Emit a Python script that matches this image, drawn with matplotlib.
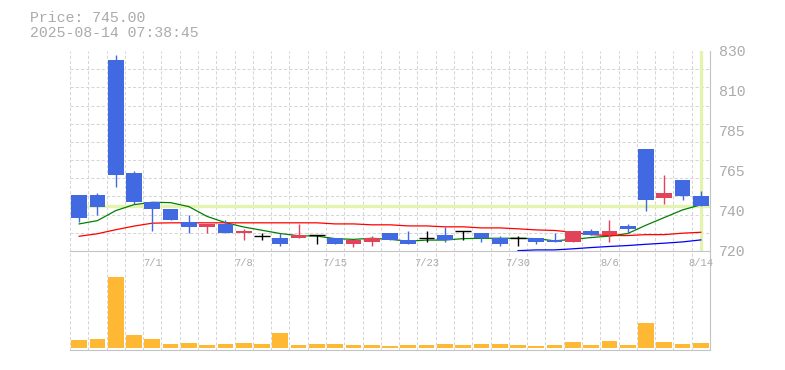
import numpy as np
import matplotlib
matplotlib.use('Agg')
import matplotlib.pyplot as plt


# daily bars, 6/25 - 8/14
dates = ['6/25', '6/26', '6/27', '6/30', '7/1', '7/2', '7/3', '7/4', '7/7', '7/8',
         '7/9', '7/10', '7/11', '7/14', '7/15', '7/16', '7/17', '7/18', '7/22', '7/23',
         '7/24', '7/25', '7/28', '7/29', '7/30', '7/31', '8/1', '8/4', '8/5', '8/6',
         '8/7', '8/8', '8/12', '8/13', '8/14']

opens = [751, 751, 825, 763, 747, 743, 736, 733, 735, 730,
         728, 727, 727, 729, 727, 724, 725, 730, 726, 727,
         729, 731, 730, 727, 727, 727, 726, 725, 731, 729,
         734, 776, 749, 759, 750]
highs = [751, 752, 828, 764, 747, 743, 740, 735, 737, 732,
         730, 730, 735, 729, 727, 726, 728, 730, 731, 731,
         733, 731, 730, 728, 728, 727, 730, 731, 732, 737,
         735, 776, 762, 759, 753]
lows = [736, 740, 755, 746, 731, 737, 730, 730, 730, 726,
        726, 723, 727, 724, 724, 722, 723, 726, 724, 725,
        725, 726, 725, 723, 723, 724, 725, 725, 729, 725,
        730, 742, 746, 748, 745]
closes = [738, 744, 762, 747, 743, 737, 733, 735, 730, 731,
          728, 724, 729, 729, 724, 726, 727, 726, 724, 727,
          726, 731, 727, 724, 727, 725, 725, 731, 729, 731,
          732, 748, 752, 750, 745]

# volume, thousand shares
volume = [8, 9, 71, 13, 9, 4, 5, 3, 4, 5,
          4, 15, 3, 4, 4, 3, 3, 2, 3, 3,
          4, 3, 4, 4, 3, 2, 3, 6, 3, 7,
          3, 25, 6, 4, 5]

# moving averages (short / mid / long)
ma_short = [734.9, 736.7, 742.2, 745.5, 746.8, 746.6, 744.4, 739.0, 735.6, 733.2,
            731.4, 729.6, 728.4, 728.2, 726.8, 726.4, 727.0, 726.4, 725.4, 726.0,
            726.0, 726.8, 727.0, 727.0, 727.0, 726.8, 725.6, 726.4, 727.4, 728.2,
            729.6, 734.2, 738.4, 742.6, 745.4]
ma_mid = [728.1, 729.5, 731.7, 733.7, 735.3, 735.5, 735.5, 735.5, 735.5, 735.5,
          735.5, 735.5, 735.5, 735.5, 734.9, 734.9, 734.4, 734.4, 733.8, 733.8,
          733.3, 733.3, 732.7, 732.7, 732.2, 731.6, 731.3, 730.3, 729.0, 728.5,
          728.5, 729.0, 729.0, 729.8, 730.3]
ma_long = [np.nan] * 24 + [720.2, 720.6, 720.6, 721.2, 721.9, 722.5,
                           723.0, 723.7, 724.3, 725.0, 726.1]

stamp = '2025-08-14 07:38:45'

y_ticks = [720, 742, 764, 786, 808, 830]
y_tick_labels = ['720', '740', '765', '785', '810', '830']

UP = '#e0435a'
DOWN = '#4169e1'
VOL = '#ffb833'
CROSS = '#e4f4b0'
GRID = '#d6d6d6'
AXIS = '#c4c4c4'
TEXT = '#ababab'
FONT = 'Liberation Mono'

x = np.arange(1, len(dates) + 1)
o = np.array(opens, dtype=float)
h = np.array(highs, dtype=float)
l = np.array(lows, dtype=float)
c = np.array(closes, dtype=float)

fig = plt.figure(figsize=(7.85, 3.7), dpi=100)
ax = fig.add_axes([70 / 785, 119 / 370, 640 / 785, 200 / 370])
axv = fig.add_axes([70 / 785, 20 / 370, 640 / 785, 99 / 370])
ax.set_zorder(2)
axv.set_zorder(1)

for a in (ax, axv):
    a.set_xlim(0.5, len(x) + 0.5)
    a.set_xticks(np.arange(0.5, len(x) + 1), minor=True)
    a.grid(True, which='minor', axis='x', color=GRID, ls=(0, (3, 2)), lw=0.75)
    a.tick_params(which='both', length=0)
    a.spines['top'].set_visible(False)
    a.spines['left'].set_visible(False)
    a.spines['right'].set_color(AXIS)
    a.spines['bottom'].set_color(AXIS)
    a.set_axisbelow(True)

# price panel
ax.set_ylim(720, 830)
ax.set_yticks(np.arange(720, 831, 10), minor=True)
ax.grid(True, which='minor', axis='y', color=GRID, ls=(0, (3, 2)), lw=0.75)
ax.yaxis.tick_right()
ax.set_yticks(y_ticks)
ax.set_yticklabels(y_tick_labels, family=FONT)
ax.tick_params(axis='y', pad=6.5, labelsize=10.7, labelcolor=TEXT)
ax.set_xticks(x[4::5])
ax.set_xticklabels(dates[4::5], family=FONT)
ax.tick_params(axis='x', pad=5, labelsize=7.6, labelcolor=TEXT)

# crosshair on last bar
ax.axhline(c[-1], color=CROSS, lw=2.4, zorder=1)
ax.axvline(x[-1], color=CROSS, lw=2.4, zorder=1)

ax.plot(x, ma_short, color='green', lw=0.9, zorder=2)
ax.plot(x, ma_mid, color='red', lw=0.9, zorder=2)
ax.plot(x, ma_long, color='blue', lw=0.9, zorder=2)

up = c > o
down = c < o
flat = c == o
colors = np.where(up, UP, np.where(down, DOWN, 'black'))
ax.vlines(x, l, h, colors=colors, lw=1.0, zorder=3)
ax.bar(x[~flat], np.abs(c - o)[~flat], 0.86, bottom=np.minimum(o, c)[~flat],
       color=colors[~flat], zorder=4)
ax.hlines(o[flat], x[flat] - 0.43, x[flat] + 0.43, colors='black', lw=1.0, zorder=4)

# volume panel
axv.bar(x, volume, 0.86, color=VOL, zorder=2)
axv.set_ylim(-2, 97)
axv.set_yticks([])
axv.set_xticks([])

fig.text(30 / 785, 1 - 18 / 370, 'Price: {:.2f}'.format(c[-1]), family=FONT,
         size=10.7, color=TEXT, va='center')
fig.text(30 / 785, 1 - 33 / 370, stamp, family=FONT, size=10.7, color=TEXT, va='center')

fig.savefig('out.png', dpi=100)
